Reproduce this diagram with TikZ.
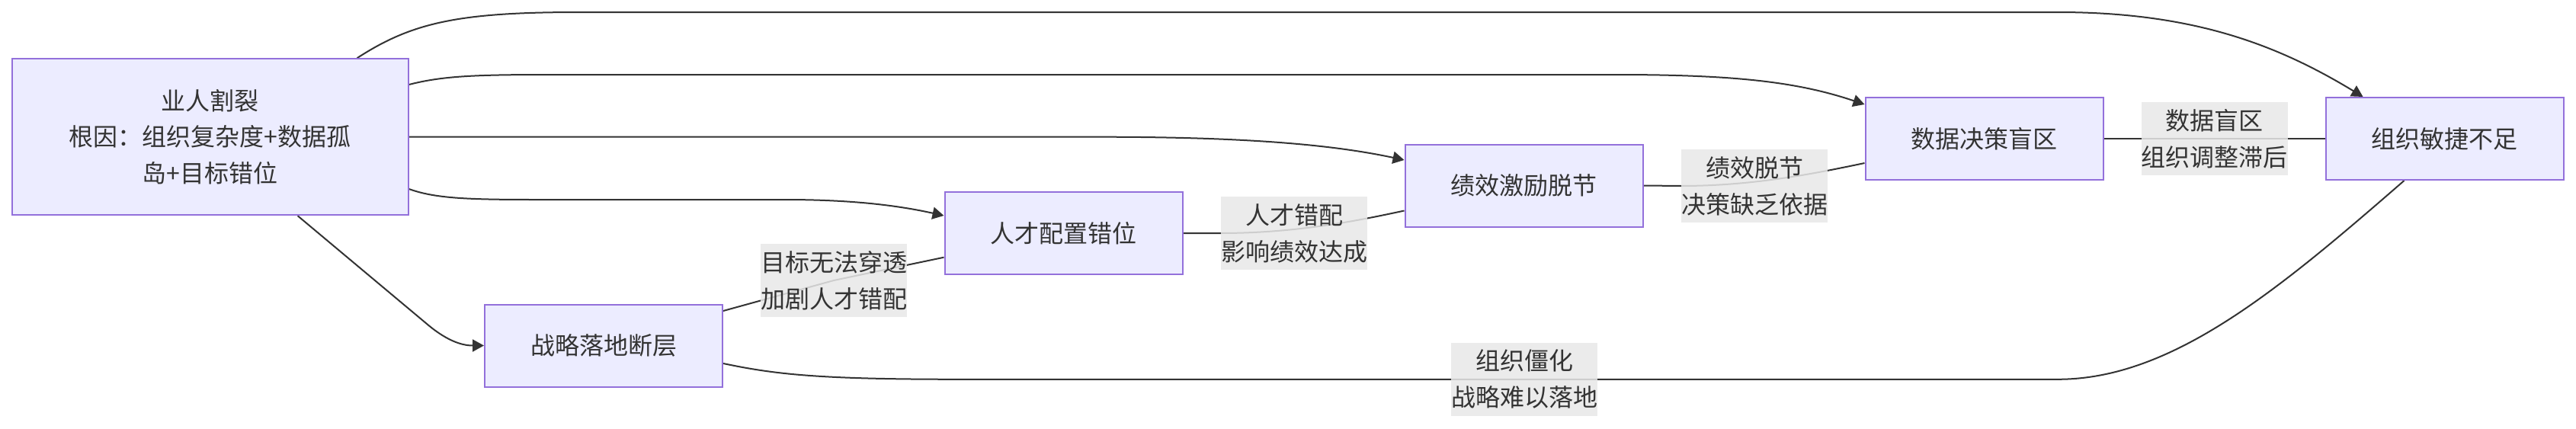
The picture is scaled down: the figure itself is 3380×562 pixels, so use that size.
\documentclass[tikz,border=0pt]{standalone}
\usepackage{fontspec}
\newfontfamily\cjk{Noto Sans CJK SC}
\usetikzlibrary{arrows.meta,backgrounds}
\definecolor{nodefill}{HTML}{ECECFF}
\definecolor{nodeborder}{HTML}{9370DB}
\definecolor{txt}{HTML}{333333}
\definecolor{edgecol}{HTML}{333333}
\definecolor{lblbg}{HTML}{E8E8E8}
\tikzset{
  box/.style={draw=nodeborder, fill=nodefill, line width=2pt, minimum width=312pt, minimum height=108pt,
    inner sep=0pt, text=txt, font=\cjk\fontsize{32pt}{48pt}\selectfont, align=center},
  lbl/.style={fill=lblbg, fill opacity=0.85, text opacity=1, text=txt, inner sep=0pt,
    minimum width=192pt, minimum height=96pt, font=\cjk\fontsize{32pt}{48pt}\selectfont, align=center},
  conn/.style={draw=edgecol, line width=2pt},
  arr/.style={conn, -{Triangle[length=15pt,width=16pt]}}
}
\begin{document}
\begin{tikzpicture}[x=1pt,y=-1pt]
\useasboundingbox (0,0) rectangle (3380,562);
% nodes
\node[box, minimum width=520pt, minimum height=205pt, font=\cjk\fontsize{32pt}{47.5pt}\selectfont] (A) at (275.6,179.7)
  {业人割裂\\根因：组织复杂度+数据孤\\岛+目标错位};
\node[box] (B) at (792,453.5) {战略落地断层};
\node[box] (C) at (1395.5,306) {人才配置错位};
\node[box] (D) at (1999.5,243.5) {绩效激励脱节};
\node[box] (E) at (2603.5,182) {数据决策盲区};
\node[box] (F) at (3207.5,182) {组织敏捷不足};
% labels
\node[lbl] (L1) at (1094,368) {目标无法穿透\\加剧人才错配};
\node[lbl] (L2) at (1698,306) {人才错配\\影响绩效达成};
\node[lbl] (L3) at (2302,244) {绩效脱节\\决策缺乏依据};
\node[lbl] (L4) at (2905.6,182) {数据盲区\\组织调整滞后};
\node[lbl] (L5) at (2000,497.8) {组织僵化\\战略难以落地};
\begin{scope}[on background layer]
% A -> F (top)
\draw[arr] ([xshift=454pt]A.north west) .. controls (540,30) and (600,16) .. (760,16)
  -- (2700,16) .. controls (2880,16) and (2990,60) .. ([xshift=50pt]F.north west);
% A -> E
\draw[arr] ([yshift=68.7pt]A.east) .. controls (580,100) and (620,98) .. (720,98)
  -- (2120,98) .. controls (2280,98) and (2360,108) .. ([yshift=45pt]E.west);
% A -> D
\draw[arr] (A.east) -- (1450,179.7) .. controls (1620,180) and (1740,188) .. ([yshift=33.5pt]D.west);
% A -> C
\draw[arr] ([yshift=-68.3pt]A.east) .. controls (570,260) and (610,262) .. (700,262)
  -- (1030,262) .. controls (1120,262) and (1180,270) .. ([yshift=23pt]C.west);
% A -> B
\draw[arr] ([xshift=376pt]A.south west) -- (560,425) .. controls (590,450.5) and (610,453.5) .. (B.west);
% B -- C
\draw[conn] ([yshift=45.5pt]B.east) -- (L1.center) -- ([yshift=-31.7pt]C.west);
% C -- D
\draw[conn] (C.east) -- (L2.west) .. controls (1700,306) and (1780,290) .. ([yshift=-33pt]D.west);
% D -- E
\draw[conn] (D.east) -- (L3.west) .. controls (2300,244) and (2380,228) .. ([yshift=-32pt]E.west);
% E -- F
\draw[conn] (E.east) -- (L4.center) -- (F.west);
% B -- F
\draw[conn] ([yshift=-23.5pt]B.east) .. controls (1020,492) and (1080,497.8) .. (1260,497.8)
  -- (L5.center) -- (2700,497.8) .. controls (2850,497.8) and (2990,380) .. ([xshift=104pt]F.south west);
\end{scope}
\end{tikzpicture}
\end{document}
